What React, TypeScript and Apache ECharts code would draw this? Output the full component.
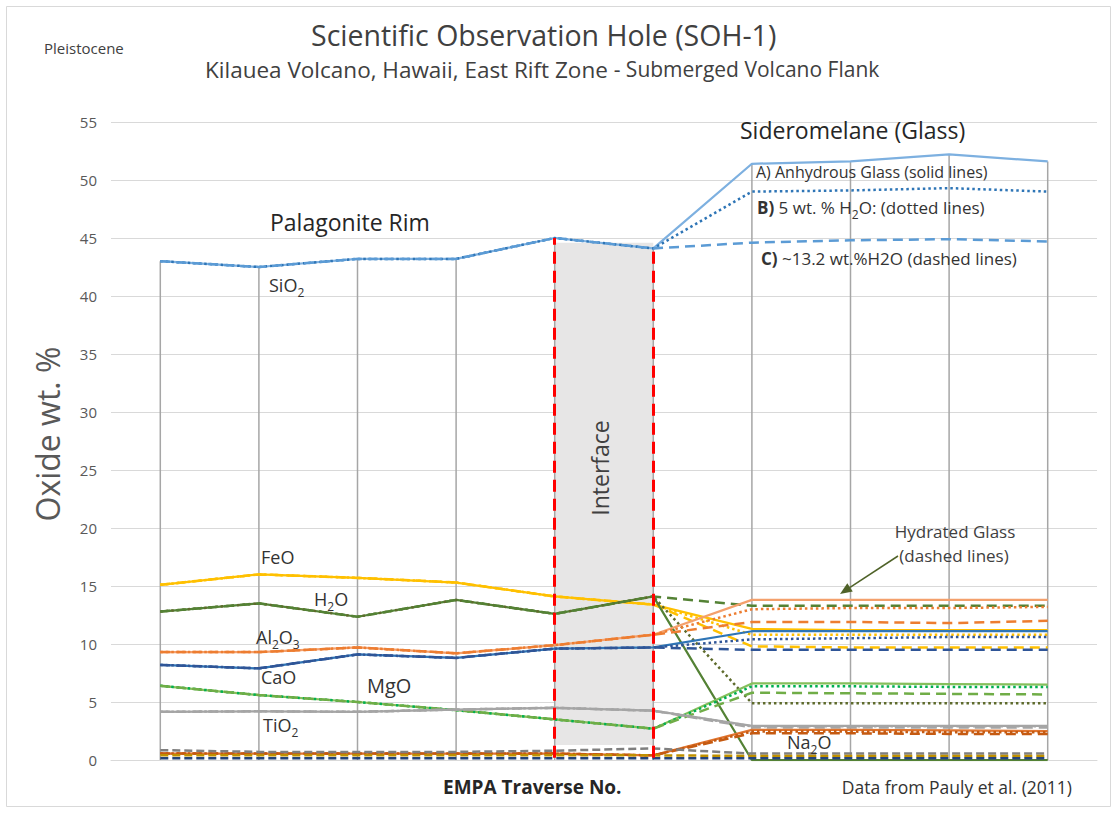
import React, { useEffect, useRef } from "react";
import * as echarts from "echarts";

// ---------- DATA ----------
const categories = ["1", "2", "3", "4", "5", "6", "7", "8", "9", "10"];
const yMin = 0;
const yMax = 55;
const yInterval = 5;

// Palagonite rim (traverse points 1-6), shared by the A/B/C series of each oxide
const sio2Rim = [43.0, 42.5, 43.2, 43.2, 45.0, 44.1];
const feoRim = [15.1, 16.0, 15.7, 15.3, 14.1, 13.4];
const h2oRim = [12.8, 13.5, 12.35, 13.8, 12.6, 14.1];
const al2o3Rim = [9.3, 9.3, 9.7, 9.2, 9.9, 10.8];
const caoRim = [8.2, 7.9, 9.1, 8.8, 9.6, 9.7];
const mgoRim = [6.4, 5.6, 5.0, 4.3, 3.5, 2.7];
const tio2Rim = [4.15, 4.2, 4.15, 4.35, 4.5, 4.25];
const na2oRim = [0.55, 0.55, 0.55, 0.55, 0.55, 0.4];

// Sideromelane glass (traverse points 7-10): A anhydrous, B 5 wt.% H2O, C ~13.2 wt.% H2O
const sio2A = [51.4, 51.6, 52.2, 51.6];
const sio2B = [49.0, 49.1, 49.3, 49.0];
const sio2C = [44.6, 44.8, 44.9, 44.7];
const feoA = [11.3, 11.2, 11.2, 11.2];
const feoB = [10.8, 10.8, 10.8, 10.8];
const feoC = [9.8, 9.7, 9.7, 9.7];
const h2oA = [0, 0, 0, 0];
const h2oB = [4.9, 4.9, 4.9, 4.9];
const h2oC = [13.3, 13.3, 13.3, 13.3];
const al2o3A = [13.8, 13.8, 13.8, 13.8];
const al2o3B = [13.0, 13.1, 13.1, 13.2];
const al2o3C = [11.9, 11.9, 11.8, 12.0];
const caoA = [11.1, 11.1, 11.1, 11.1];
const caoB = [10.4, 10.5, 10.6, 10.6];
const caoC = [9.5, 9.5, 9.5, 9.5];
const mgoA = [6.6, 6.6, 6.55, 6.5];
const mgoB = [6.35, 6.35, 6.3, 6.3];
const mgoC = [5.8, 5.75, 5.7, 5.65];
const tio2A = [2.95, 2.95, 2.95, 2.95];
const tio2B = [2.9, 2.9, 2.9, 2.9];
const tio2C = [2.8, 2.8, 2.8, 2.8];
const na2oA = [2.6, 2.6, 2.55, 2.5];
const na2oB = [2.45, 2.45, 2.4, 2.4];
const na2oC = [2.3, 2.3, 2.25, 2.25];

// Minor oxides near zero (unlabelled in the reference)
const k2o = [0.85, 0.7, 0.7, 0.7, 0.8, 1.0, 0.55, 0.55, 0.55, 0.55];
const mno = [0.4, 0.4, 0.4, 0.4, 0.4, 0.4, 0.35, 0.35, 0.35, 0.35];
const p2o5 = [0.15, 0.15, 0.15, 0.15, 0.15, 0.15, 0.15, 0.15, 0.15, 0.15];

// ---------- STYLE TABLE ----------
const oxides = [
  { name: "SiO2", rim: sio2Rim, A: sio2A, B: sio2B, C: sio2C, colors: ["#7DB0E0", "#2E75B6", "#5B9BD5"] },
  { name: "FeO", rim: feoRim, A: feoA, B: feoB, C: feoC, colors: ["#FFC000", "#FFC000", "#FFC000"] },
  { name: "H2O", rim: h2oRim, A: h2oA, B: h2oB, C: h2oC, colors: ["#548235", "#5E6B2C", "#548235"] },
  { name: "Al2O3", rim: al2o3Rim, A: al2o3A, B: al2o3B, C: al2o3C, colors: ["#F4A06C", "#ED7D31", "#ED7D31"] },
  { name: "CaO", rim: caoRim, A: caoA, B: caoB, C: caoC, colors: ["#2E75B6", "#2F5597", "#2F5597"] },
  { name: "MgO", rim: mgoRim, A: mgoA, B: mgoB, C: mgoC, colors: ["#86BF5C", "#00B050", "#70AD47"] },
  { name: "TiO2", rim: tio2Rim, A: tio2A, B: tio2B, C: tio2C, colors: ["#A5A5A5", "#A5A5A5", "#A5A5A5"] },
  { name: "Na2O", rim: na2oRim, A: na2oA, B: na2oB, C: na2oC, colors: ["#E0742E", "#C55A11", "#C55A11"] },
];

const minors = [
  { name: "K2O", data: k2o, color: "#7F7F7F" },
  { name: "MnO", data: mno, color: "#BF9000" },
  { name: "P2O5", data: p2o5, color: "#264478" },
];

const FONT = "'Open Sans', Lato, sans-serif";

function chem(parts: Array<[string, boolean]>) {
  return parts.map(([t, sub]) => (sub ? `{s|${t}}` : `{n|${t}}`)).join("");
}

function chemRich(size: number, color: string) {
  return {
    n: { fontSize: size, lineHeight: size + 2, verticalAlign: "top", fill: color, fontFamily: FONT },
    s: {
      fontSize: Math.round(size * 0.68),
      lineHeight: Math.round(size * 0.68),
      verticalAlign: "top",
      padding: [Math.round(size * 0.58), 0, 0, 0],
      fill: color,
      fontFamily: FONT,
    },
    b: { fontSize: size, lineHeight: size + 2, verticalAlign: "top", fill: color, fontFamily: FONT, fontWeight: "bold" },
  };
}

function label(x: number, y: number, text: string, size: number, color = "#333333") {
  return {
    type: "text",
    x,
    y,
    z: 100,
    style: {
      text,
      rich: chemRich(size, color),
      fill: color,
      fontSize: size,
      fontFamily: FONT,
      align: "left",
      textAlign: "left",
      verticalAlign: "middle",
      textVerticalAlign: "middle",
    },
  };
}

function plain(x: number, y: number, text: string, size: number, color: string, align = "left", extra: any = {}) {
  return {
    type: "text",
    x,
    y,
    z: 100,
    ...(extra.rotation ? { rotation: extra.rotation } : {}),
    style: {
      text,
      fill: color,
      fontSize: size,
      fontFamily: FONT,
      fontWeight: extra.fontWeight || "normal",
      align,
      textAlign: align,
      verticalAlign: "middle",
      textVerticalAlign: "middle",
    },
  };
}

export default function App() {
  const ref = useRef<HTMLDivElement>(null);

  useEffect(() => {
    if (!ref.current) return;
    const chart = echarts.init(ref.current, undefined, { renderer: "svg" });

    const series: any[] = [];
    const allData: number[][] = [];

    oxides.forEach((o) => {
      const variants: Array<[string, number[], string, any, number]> = [
        ["A", o.A, o.colors[0], "solid", 2.25],
        ["B", o.B, o.colors[1], [2.5, 3], 2.5],
        ["C", o.C, o.colors[2], [10, 6], 2.5],
      ];
      variants.forEach(([tag, glass, color, type, width]) => {
        const data = [...o.rim, ...glass];
        allData.push(data);
        series.push({
          type: "line",
          name: `${o.name} ${tag}`,
          data,
          symbol: "none",
          z: 3,
          lineStyle: { color, width, type },
        });
      });
    });

    minors.forEach((m) => {
      allData.push(m.data);
      series.push({
        type: "line",
        name: m.name,
        data: m.data,
        symbol: "none",
        z: 3,
        lineStyle: { color: m.color, width: 2.5, type: [8, 4] },
      });
    });

    // drop lines: from highest value to axis at every category
    const dropData = categories.map((_, i) => Math.max(...allData.map((d) => d[i])));
    series.unshift({
      type: "bar",
      name: "drop",
      data: dropData,
      barWidth: 1.5,
      z: 1,
      itemStyle: { color: "#A6A6A6" },
      silent: true,
    });

    // interface shading
    series.push({
      type: "line",
      name: "interfaceArea",
      data: categories.map(() => "-"),
      z: 0,
      silent: true,
      markArea: {
        silent: true,
        itemStyle: { color: "#E7E6E6", opacity: 1 },
        data: [[{ xAxis: categories[4], yAxis: 1.3 }, { xAxis: categories[5], yAxis: 44.6 }]],
      },
    });

    // red interface boundaries
    series.push({
      type: "line",
      name: "interfaceLines",
      data: categories.map(() => "-"),
      z: 10,
      silent: true,
      markLine: {
        silent: true,
        symbol: "none",
        label: { show: false },
        lineStyle: { color: "#FF0000", type: [12, 7], width: 3 },
        data: [
          [{ coord: [categories[4], 0.2] }, { coord: [categories[4], sio2Rim[4]] }],
          [{ coord: [categories[5], 0.2] }, { coord: [categories[5], sio2Rim[5]] }],
        ],
      },
    });

    const arrowTip = [840, 594];
    const arrowTail = [898, 556];
    const dx = arrowTip[0] - arrowTail[0];
    const dy = arrowTip[1] - arrowTail[1];
    const len = Math.hypot(dx, dy);
    const ux = dx / len;
    const uy = dy / len;
    const bx = arrowTip[0] - ux * 12;
    const by = arrowTip[1] - uy * 12;
    const px = -uy * 5;
    const py = ux * 5;

    const graphic: any[] = [
      {
        type: "rect",
        z: 0,
        shape: { x: 6.5, y: 6.5, width: 1104, height: 800 },
        style: { fill: "none", stroke: "#D9D9D9", lineWidth: 1 },
        silent: true,
      },
      plain(311, 35, "Scientific Observation Hole (SOH-1)", 28.5, "#404040", "left"),
      {
        type: "text",
        x: 205,
        y: 69,
        z: 100,
        style: {
          text: "{a|Kilauea Volcano, Hawaii, East Rift Zone }{c|- Submerged Volcano Flank}",
          rich: {
            a: { fontSize: 22.5, fontFamily: FONT, fill: "#404040", verticalAlign: "middle" },
            c: { fontSize: 21, fontFamily: FONT, fill: "#404040", verticalAlign: "middle" },
          },
          align: "left",
          textAlign: "left",
          verticalAlign: "middle",
          textVerticalAlign: "middle",
        },
      },
      plain(44, 48, "Pleistocene", 15, "#404040"),
      plain(740, 130, "Sideromelane (Glass)", 23, "#262626"),
      plain(756, 172, "A) Anhydrous Glass (solid lines)", 16, "#333333"),
      label(757, 208, "{b|B)}" + chem([[" 5 wt. % H", false], ["2", true], ["O: (dotted lines)", false]]), 17),
      label(761, 259, "{b|C)}{n| ~13.2 wt.%H2O (dashed lines)}", 17),
      plain(270, 222, "Palagonite Rim", 23, "#262626"),
      plain(600, 468, "Interface", 23, "#404040", "center", { rotation: Math.PI / 2 }),
      plain(955, 531, "Hydrated Glass", 17, "#404040", "center"),
      plain(954, 555, "(dashed lines)", 17, "#404040", "center"),
      plain(443, 787, "EMPA Traverse No.", 19, "#262626", "left", { fontWeight: "bold" }),
      plain(1072, 787, "Data from Pauly et al. (2011)", 17.5, "#333333", "right"),
      plain(47, 434, "Oxide wt. %", 32, "#595959", "center", { rotation: Math.PI / 2 }),
      label(269, 286, chem([["SiO", false], ["2", true]]), 18),
      label(261, 558, chem([["FeO", false]]), 18),
      label(314, 600, chem([["H", false], ["2", true], ["O", false]]), 18),
      label(256, 638, chem([["Al", false], ["2", true], ["O", false], ["3", true]]), 18),
      label(261, 678, chem([["CaO", false]]), 18),
      label(367, 686, chem([["MgO", false]]), 20),
      label(263, 726, chem([["TiO", false], ["2", true]]), 18),
      label(787, 743, chem([["Na", false], ["2", true], ["O", false]]), 18),
      {
        type: "line",
        z: 100,
        shape: { x1: arrowTail[0], y1: arrowTail[1], x2: bx, y2: by },
        style: { stroke: "#4F6228", lineWidth: 1.5 },
      },
      {
        type: "polygon",
        z: 100,
        shape: {
          points: [
            [arrowTip[0], arrowTip[1]],
            [bx + px, by + py],
            [bx - px, by - py],
          ],
        },
        style: { fill: "#4F6228" },
      },
    ];

    chart.setOption({
      animation: false,
      backgroundColor: "#FFFFFF",
      grid: { left: 111, right: 21, top: 122, bottom: 54, containLabel: false },
      xAxis: {
        type: "category",
        data: categories,
        boundaryGap: true,
        axisLine: { show: true, lineStyle: { color: "#D9D9D9", width: 1 } },
        axisTick: { show: false },
        axisLabel: { show: false },
        splitLine: { show: false },
      },
      yAxis: {
        type: "value",
        min: yMin,
        max: yMax,
        interval: yInterval,
        axisLine: { show: false },
        axisTick: { show: false },
        axisLabel: { color: "#595959", fontSize: 15, fontFamily: FONT, margin: 14 },
        splitLine: { lineStyle: { color: "#D9D9D9", width: 1 } },
      },
      graphic,
      series,
    });

    return () => chart.dispose();
  }, []);

  return (
    <div
      ref={ref}
      style={{ position: "fixed", left: 0, top: 0, width: 1118, height: 814, background: "#fff" }}
    />
  );
}
